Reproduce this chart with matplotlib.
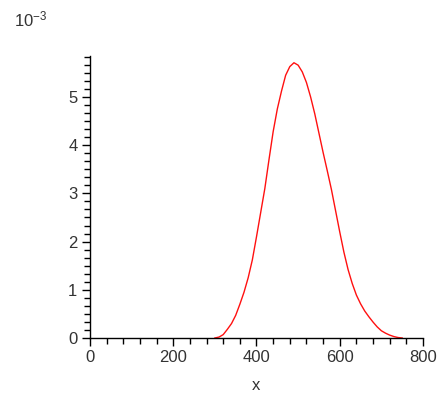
import matplotlib
matplotlib.use("Agg")
import matplotlib.pyplot as plt
from matplotlib.ticker import MultipleLocator

x_vals = [300, 310, 320, 330, 340, 350, 360, 370, 380, 390, 400, 410, 420, 430,
          440, 450, 460, 470, 480, 490, 500, 510, 520, 530, 540, 550, 560, 570,
          580, 590, 600, 610, 620, 630, 640, 650, 660, 670, 680, 690, 700, 710,
          720, 730, 740, 750]
y_vals = [0.0, 0.02, 0.07, 0.18, 0.30, 0.47, 0.70, 0.95, 1.25, 1.62, 2.10, 2.60,
          3.10, 3.70, 4.28, 4.75, 5.12, 5.45, 5.63, 5.71, 5.66, 5.52, 5.30, 5.00,
          4.65, 4.25, 3.85, 3.47, 3.08, 2.64, 2.20, 1.78, 1.42, 1.13, 0.89, 0.71,
          0.56, 0.44, 0.33, 0.23, 0.15, 0.10, 0.06, 0.03, 0.01, 0.0]
x_ticks = [0, 200, 400, 600, 800]
y_ticks = [0, 1, 2, 3, 4, 5]

plt.rcParams['font.family'] = ['Liberation Sans', 'DejaVu Sans']
plt.rcParams['mathtext.fontset'] = 'custom'
plt.rcParams['mathtext.rm'] = 'Liberation Sans'
plt.rcParams['mathtext.it'] = 'Liberation Sans'

fig = plt.figure(figsize=(4.39, 4.00), dpi=100)
W, H = 439, 400
x0, x1 = 90, 423
ytop, ybot = 56, 338
ax = fig.add_axes([x0 / W, 1 - ybot / H, (x1 - x0) / W, (ybot - ytop) / H])

ax.plot(x_vals, y_vals, color='#ff1010', lw=1.0)
ax.set_xlim(0, 800)
ax.set_ylim(0, 5.85)

for s in ['top', 'right']:
    ax.spines[s].set_visible(False)
for s in ['left', 'bottom']:
    ax.spines[s].set_linewidth(1.0)
    ax.spines[s].set_color('black')

ax.set_xticks(x_ticks)
ax.set_yticks(y_ticks)
ax.xaxis.set_minor_locator(MultipleLocator(40))
ax.yaxis.set_minor_locator(MultipleLocator(1 / 6))
ax.tick_params(which='major', length=6, width=1.0, direction='out', colors='black',
               labelcolor='#333333', labelsize=12, pad=3)
ax.tick_params(which='minor', length=4, width=1.0, direction='out', colors='black')

ax.set_xlabel('x', fontsize=12, color='#333333', labelpad=9)
fig.text(14 / W, 1 - 19 / H, r'$10^{-3}$', fontsize=12, color='#333333',
         ha='left', va='center')

fig.savefig('out.png', dpi=100, facecolor='white')
